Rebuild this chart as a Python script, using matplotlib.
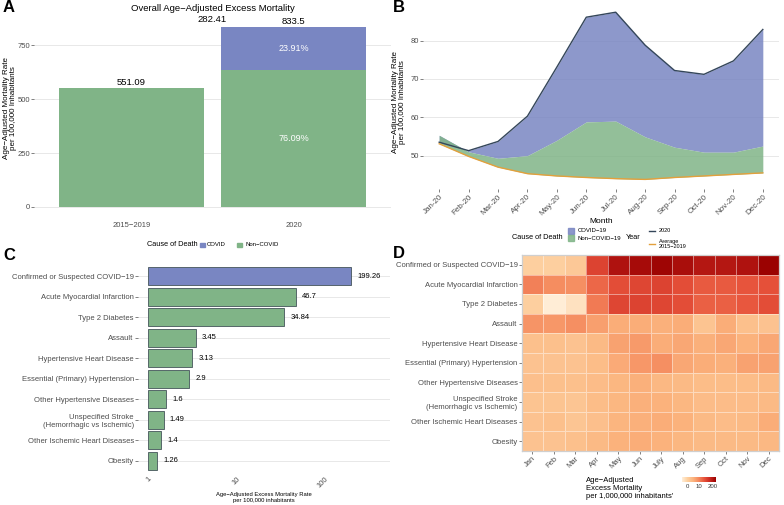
import numpy as np
import matplotlib
matplotlib.use('Agg')
import matplotlib.pyplot as plt
from matplotlib.patches import Rectangle
from matplotlib.lines import Line2D
from matplotlib.colors import LinearSegmentedColormap, FuncNorm

plt.rcParams['font.family'] = ['Liberation Sans', 'DejaVu Sans']

W, H = 784, 505

# ---- data ----
# A: overall rate
periods = ['2015\u22122019', '2020']
noncovid_rate = [551.09, 634.24]
covid_rate = [0.0, 199.26]
total_rate = [551.09, 833.5]
excess_total = 282.41

# B: monthly rate 2020
month_labels = ['Jan-20', 'Feb-20', 'Mar-20', 'Apr-20', 'May-20', 'Jun-20',
                'Jul-20', 'Aug-20', 'Sep-20', 'Oct-20', 'Nov-20', 'Dec-20']
avg_2015_2019 = [53.1, 49.8, 47.0, 45.3, 44.7, 44.3, 44.0, 43.8, 44.3, 44.7, 45.1, 45.5]
noncovid_2020 = [55.3, 51.0, 49.3, 50.0, 54.0, 58.8, 59.0, 54.9, 52.2, 50.9, 50.9, 52.5]
total_2020 = [53.5, 51.3, 53.7, 60.3, 73.1, 86.1, 87.4, 78.8, 72.2, 71.2, 74.7, 82.9]

# C: excess by cause
causes = ['Confirmed or Suspected COVID\u221219', 'Acute Myocardial Infarction',
          'Type 2 Diabetes', 'Assault', 'Hypertensive Heart Disease',
          'Essential (Primary) Hypertension', 'Other Hypertensive Diseases',
          'Unspecified Stroke\n(Hemorrhagic vs Ischemic)',
          'Other Ischemic Heart Diseases', 'Obesity']
excess_rate = [199.26, 46.7, 34.84, 3.45, 3.13, 2.9, 1.6, 1.49, 1.4, 1.26]

# D: monthly excess by cause (per 1,000,000)
heat_months = ['Jan', 'Feb', 'Mar', 'Apr', 'May', 'Jun', 'July', 'Aug', 'Sep', 'Oct', 'Nov', 'Dec']
heat_values = [
    [0.0, 0.0, 0.3, 55, 246, 307, 384, 285, 212, 212, 246, 414],
    [11.8, 8.5, 7.8, 22, 41, 51, 55, 41, 30, 30, 35, 38],
    [0.0, -2.2, -1.0, 13.8, 51, 55, 51, 41, 26, 26, 32, 41],
    [6.6, 6.1, 7.8, 4.7, 2.9, 2.9, 2.6, 2.9, 0.6, 2.9, 0.9, 0.7],
    [0.9, 0.9, 0.7, 1.5, 4.3, 5.6, 2.9, 3.5, 2.6, 3.5, 2.4, 3.5],
    [0.7, 0.7, 0.7, 1.2, 3.2, 6.1, 7.8, 3.5, 2.9, 2.6, 4.3, 4.3],
    [1.0, 0.9, 0.9, 1.3, 1.9, 2.6, 1.7, 1.5, 1.2, 1.2, 1.2, 1.5],
    [0.6, 0.6, 0.5, 1.2, 1.9, 2.6, 2.4, 1.9, 1.3, 1.3, 1.3, 1.5],
    [0.7, 0.9, 0.5, 1.0, 2.1, 2.6, 2.9, 2.4, 1.5, 1.3, 1.5, 2.9],
    [0.7, 0.7, 0.9, 1.5, 2.4, 2.9, 2.4, 1.9, 1.5, 1.5, 1.5, 1.7],
]

BLUE = '#7986c2'
GREEN = '#80b487'
DARK = '#34465a'
ORANGE = '#e3a03c'
TICK = '#4d4d4d'
GRID = '#e8e8e8'


def rect(l, t, r, b):
    return [l / W, 1 - b / H, (r - l) / W, (b - t) / H]


def fx(x):
    return x / W


def fy(y):
    return 1 - y / H


def style(ax):
    for s in ax.spines.values():
        s.set_visible(False)
    ax.tick_params(labelsize=5.5, colors=TICK, length=2, width=0.5, pad=1)
    ax.set_axisbelow(True)


fig = plt.figure(figsize=(W / 100, H / 100), dpi=100)

# ---- A ----
ax = fig.add_axes(rect(34.3, 18, 390.7, 216))
style(ax)
x = np.arange(len(periods))
ax.bar(x, noncovid_rate, width=0.9, color=GREEN)
ax.bar(x, covid_rate, bottom=noncovid_rate, width=0.9, color=BLUE)
ax.set_xlim(-0.6, 1.6)
ax.set_ylim(-41.7, 875.2)
ax.set_yticks([0, 250, 500, 750])
ax.set_xticks(x, periods)
ax.tick_params(axis='x', length=0, pad=4)
ax.yaxis.grid(True, color=GRID, lw=0.7)
ax.set_ylabel('Age\u2212Adjusted Mortality Rate\nper 100,000 Inhabitants', fontsize=5.8,
              linespacing=1.0)
ax.yaxis.set_label_coords(-0.049, 0.545)
ax.set_title('Overall Age\u2212Adjusted Excess Mortality', fontsize=6.8, pad=5)
for i, t in enumerate(total_rate):
    ax.text(i, t + 6, f'{t:g}', ha='center', va='bottom', fontsize=6.8)
ax.text(0.5, total_rate[1] + 12, f'{excess_total:g}', ha='center', va='bottom', fontsize=6.8)
ax.text(1, noncovid_rate[1] + covid_rate[1] / 2, '23.91%', color='white', ha='center',
        va='center', fontsize=6.5)
ax.text(1, noncovid_rate[1] / 2, '76.09%', color='white', ha='center', va='center', fontsize=6.5)

# legend A
fig.text(fx(198), fy(245), 'Cause of Death', ha='right', va='center', fontsize=5.3)
fig.add_artist(Rectangle((fx(200), fy(247.3)), 4.5 / W, 4.5 / H, color=BLUE, transform=fig.transFigure))
fig.text(fx(207), fy(245), 'COVID', ha='left', va='center', fontsize=4.3)
fig.add_artist(Rectangle((fx(237), fy(247.3)), 4.5 / W, 4.5 / H, color=GREEN, transform=fig.transFigure))
fig.text(fx(246), fy(245), 'Non\u2212COVID', ha='left', va='center', fontsize=4.3)

# ---- B ----
ax = fig.add_axes(rect(423, 3, 779, 189))
style(ax)
xm = np.arange(len(month_labels))
ax.fill_between(xm, noncovid_2020, total_2020, color=BLUE, alpha=0.85, lw=0)
ax.fill_between(xm, avg_2015_2019, noncovid_2020, color=GREEN, alpha=0.85, lw=0)
ax.plot(xm, total_2020, color=DARK, lw=1.0)
ax.plot(xm, avg_2015_2019, color=ORANGE, lw=1.0)
ax.set_xlim(-0.55, 11.55)
ax.set_ylim(41.3, 89.8)
ax.set_yticks([50, 60, 70, 80])
ax.yaxis.grid(True, color=GRID, lw=0.7)
ax.set_xticks(xm)
ax.set_xticklabels(month_labels, rotation=45, ha='right', rotation_mode='anchor')
ax.tick_params(axis='x', labelsize=5.8)
ax.set_xlabel('Month', fontsize=6, labelpad=1)
ax.set_ylabel('Age\u2212Adjusted Mortality Rate\nper 100,000 Inhabitants', fontsize=5.8,
              linespacing=1.0)
ax.yaxis.set_label_coords(-0.048, 0.47)

# legend B
fig.text(fx(563), fy(237.5), 'Cause of Death', ha='right', va='center', fontsize=5.3)
fig.add_artist(Rectangle((fx(568), fy(234)), 6 / W, 6 / H, color=BLUE, alpha=0.85, transform=fig.transFigure))
fig.add_artist(Rectangle((fx(568), fy(241)), 6 / W, 6 / H, color=GREEN, alpha=0.85, transform=fig.transFigure))
fig.text(fx(578), fy(230.5), 'COVID\u221219', ha='left', va='center', fontsize=4.3)
fig.text(fx(578), fy(238.5), 'Non\u2212COVID\u221219', ha='left', va='center', fontsize=4.3)
fig.text(fx(626), fy(237.5), 'Year', ha='left', va='center', fontsize=5.3)
fig.add_artist(Line2D([fx(649), fx(655)], [fy(231), fy(231)], color=DARK, lw=1.0, transform=fig.transFigure))
fig.add_artist(Line2D([fx(649), fx(655)], [fy(244), fy(244)], color=ORANGE, lw=1.0, transform=fig.transFigure))
fig.text(fx(659), fy(230.5), '2020', ha='left', va='center', fontsize=4.0)
fig.text(fx(659), fy(244), 'Average\n2015\u22122019', ha='left', va='center', fontsize=4.0,
         linespacing=1.0)

# ---- C ----
ax = fig.add_axes(rect(138, 263.7, 390, 473))
style(ax)
yc = np.arange(len(causes))
colors_c = [BLUE] + [GREEN] * (len(causes) - 1)
ax.barh(yc, np.array(excess_rate) - 1, left=1, height=0.88, color=colors_c,
        edgecolor='#45555a', lw=0.6)
ax.set_xscale('log')
ax.set_xlim(0.764, 546)
ax.set_ylim(len(causes) - 0.4, -0.6)
ax.set_yticks(yc, causes)
ax.set_xticks([1, 10, 100], ['1', '10', '100'])
ax.minorticks_off()
ax.tick_params(axis='x', length=0, pad=2)
plt.setp(ax.get_xticklabels(), rotation=45, ha='right', rotation_mode='anchor')
ax.yaxis.grid(True, color=GRID, lw=0.7)
for i, v in enumerate(excess_rate):
    ax.annotate(f'{v:g}', (v, i), xytext=(4.5, 0), textcoords='offset points',
                ha='left', va='center', fontsize=5.5)
ax.set_xlabel('Age\u2212Adjusted Excess Mortality Rate\nper 100,000 inhabitants',
              fontsize=4.2, labelpad=2, linespacing=1.1)

# ---- D ----
cmap = LinearSegmentedColormap.from_list(
    'orrd', ['#fff0dc', '#fdd0a0', '#fbb47e', '#f4875c', '#e6513a', '#c7271f', '#990000'])


def fwd(v):
    v = np.asarray(v, dtype=float)
    return np.sign(v) * np.log1p(np.abs(v))


def inv(t):
    t = np.asarray(t, dtype=float)
    return np.sign(t) * np.expm1(np.abs(t))


norm = FuncNorm((fwd, inv), vmin=-2.67, vmax=445)
ax = fig.add_axes(rect(521.7, 255, 779.3, 451))
data = np.array(heat_values)
mesh = ax.pcolormesh(np.arange(13) - 0.5, np.arange(11) - 0.5, data, cmap=cmap, norm=norm,
                     edgecolors=(1, 1, 1, 0.45), linewidth=0.4)
ax.set_xlim(-0.5, 11.5)
ax.set_ylim(9.5, -0.5)
for s in ax.spines.values():
    s.set_color('#cfcfcf')
    s.set_linewidth(0.9)
ax.tick_params(labelsize=5.5, colors=TICK, length=2, width=0.5, pad=1)
ax.set_yticks(np.arange(len(causes)), causes)
ax.set_xticks(np.arange(12))
ax.set_xticklabels(heat_months, rotation=45, ha='right', rotation_mode='anchor')

cax = fig.add_axes(rect(681.7, 476.7, 716, 481.7))
cb = fig.colorbar(mesh, cax=cax, orientation='horizontal', ticks=[0, 10, 200])
cb.outline.set_visible(False)
cax.tick_params(length=0, labelsize=4.3, pad=2, colors='#333333')
cax.set_xticklabels(['0', '10', '200'])
fig.text(fx(585.7), fy(488.5), 'Age\u2212Adjusted\nExcess Mortality\nper 1,000,000 inhabitants\'',
         ha='left', va='center', fontsize=5.5, linespacing=1.15)

# panel letters
for lab, px, py in [('A', 3, 8), ('B', 393, 8), ('C', 3, 255), ('D', 393, 254)]:
    fig.text(fx(px), fy(py), lab, fontsize=12, fontweight='bold', ha='left', va='center')

fig.savefig('out.png', dpi=100)
